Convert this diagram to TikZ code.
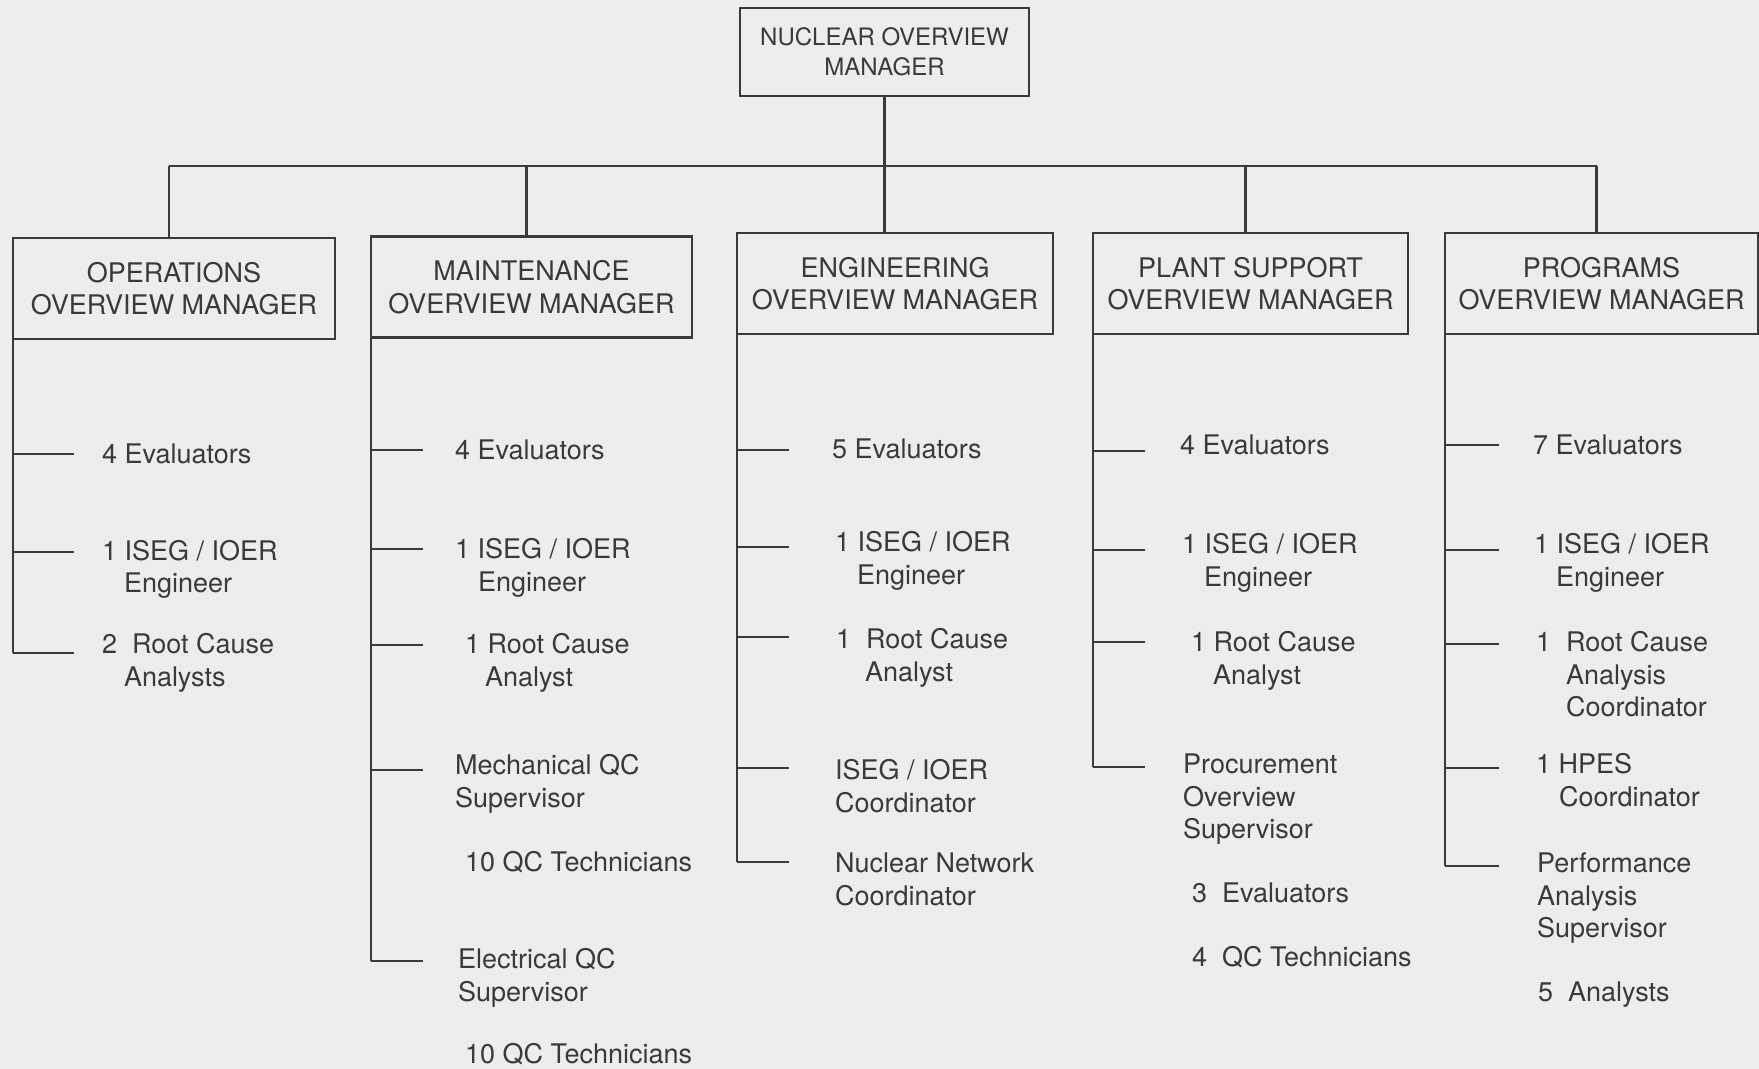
\documentclass[tikz,border=0pt]{standalone}
\usepackage{fontspec}
\setmainfont{TeX Gyre Heros}
\definecolor{ink}{HTML}{3A3A3A}
\definecolor{paper}{HTML}{EDEDEB}
\tikzset{
    mgrbox/.style={draw, inner sep=0pt, outer sep=0pt, minimum height=50.5pt, align=center, font=\fontsize{13.5}{16.3}\selectfont},
    staff/.style={anchor=base west, inner sep=0pt, align=left, font=\fontsize{13.5}{16.3}\selectfont}
}
\begin{document}
\begin{tikzpicture}[x=0.5pt, y=-0.5pt, color=ink, line width=1.1pt]
    \path[use as bounding box, fill=paper] (0,0) rectangle (1759,1069);

    \node[mgrbox, minimum width=144.5pt, minimum height=44pt, font=\fontsize{12}{15}\selectfont] (nov) at (884.5,52) {NUCLEAR OVERVIEW\\MANAGER};
    \node[mgrbox, minimum width=161pt] (ops) at (174,288.5) {OPERATIONS\\OVERVIEW MANAGER};
    \node[mgrbox, minimum width=160.5pt] (mnt) at (531.5,287) {MAINTENANCE\\OVERVIEW MANAGER};
    \node[mgrbox, minimum width=158pt] (eng) at (895,283.5) {ENGINEERING\\OVERVIEW MANAGER};
    \node[mgrbox, minimum width=157.5pt] (pls) at (1250.5,283.5) {PLANT SUPPORT\\OVERVIEW MANAGER};
    \node[mgrbox, minimum width=156.5pt] (prg) at (1601.5,283.5) {PROGRAMS\\OVERVIEW MANAGER};

    \coordinate (bus) at (0,166);
    \draw (nov.south) -- (nov.south |- eng.north);
    \draw ([xshift=-2.5pt]ops.north |- bus) -- ([xshift=-2.5pt]prg.north |- bus);
    \foreach \b in {ops,mnt,pls,prg}
      \draw ([xshift=-2.5pt]\b.north |- bus) -- ([xshift=-2.5pt]\b.north);

    \foreach \d/\len/\last/\ys in {ops/61/653/{454,552,653}, mnt/52/961/{450,549,645,770,961}, eng/52/862/{450,547,637,768,862}, pls/52/767/{451,550,642,767}, prg/54/866/{445,550,644,768,866}}{
      \draw (\d.south west) -- (\d.south west |- 0,\last);
      \foreach \y in \ys
        \draw (\d.south west |- 0,\y) -- ++(\len,0);
    }

    \node[staff] (ops1) at (101,463.5) {4 Evaluators};
    \node[staff] (ops2) at (101,592.6) {1 ISEG / IOER\\\hspace*{11pt}Engineer};
    \node[staff] (ops3) at (101,686.1) {2\ \ Root Cause\\\hspace*{11pt}Analysts};

    \node[staff] (mnt1) at (454,459.5) {4 Evaluators};
    \node[staff] (mnt2) at (454,591.1) {1 ISEG / IOER\\\hspace*{11.5pt}Engineer};
    \node[staff] (mnt3) at (464,686.1) {1 Root Cause\\\hspace*{10pt}Analyst};
    \node[staff] (mnt4) at (454,807.1) {Mechanical QC\\Supervisor};
    \node[staff] (mnt5) at (464,871.5) {10 QC Technicians};
    \node[staff] (mnt6) at (457,1001.1) {Electrical QC\\Supervisor};
    \node[staff] (mnt7) at (464,1063.5) {10 QC Technicians};

    \node[staff] (eng1) at (831,458.5) {5 Evaluators};
    \node[staff] (eng2) at (834,584.1) {1 ISEG / IOER\\\hspace*{11pt}Engineer};
    \node[staff] (eng3) at (835,681.1) {1\ \ Root Cause\\\hspace*{14.5pt}Analyst};
    \node[staff] (eng4) at (834,812.1) {ISEG / IOER\\Coordinator};
    \node[staff] (eng5) at (834,905.1) {Nuclear Network\\Coordinator};

    \node[staff] (pls1) at (1179,454.5) {4 Evaluators};
    \node[staff] (pls2) at (1181,586.1) {1 ISEG / IOER\\\hspace*{11pt}Engineer};
    \node[staff] (pls3) at (1190,684.1) {1 Root Cause\\\hspace*{11pt}Analyst};
    \node[staff] (pls4) at (1182,838.7) {Procurement\\Overview\\Supervisor};
    \node[staff] (pls5) at (1191,902.5) {3\ \ Evaluators};
    \node[staff] (pls6) at (1191,966.5) {4\ \ QC Technicians};

    \node[staff] (prg1) at (1532,454.5) {7 Evaluators};
    \node[staff] (prg2) at (1533,586.1) {1 ISEG / IOER\\\hspace*{11pt}Engineer};
    \node[staff] (prg3) at (1535,716.7) {1\ \ Root Cause\\\hspace*{15pt}Analysis\\\hspace*{15pt}Coordinator};
    \node[staff] (prg4) at (1535,806.1) {1 HPES\\\hspace*{11.5pt}Coordinator};
    \node[staff] (prg5) at (1536,937.7) {Performance\\Analysis\\Supervisor};
    \node[staff] (prg6) at (1537,1001.5) {5\ \ Analysts};
\end{tikzpicture}
\end{document}
